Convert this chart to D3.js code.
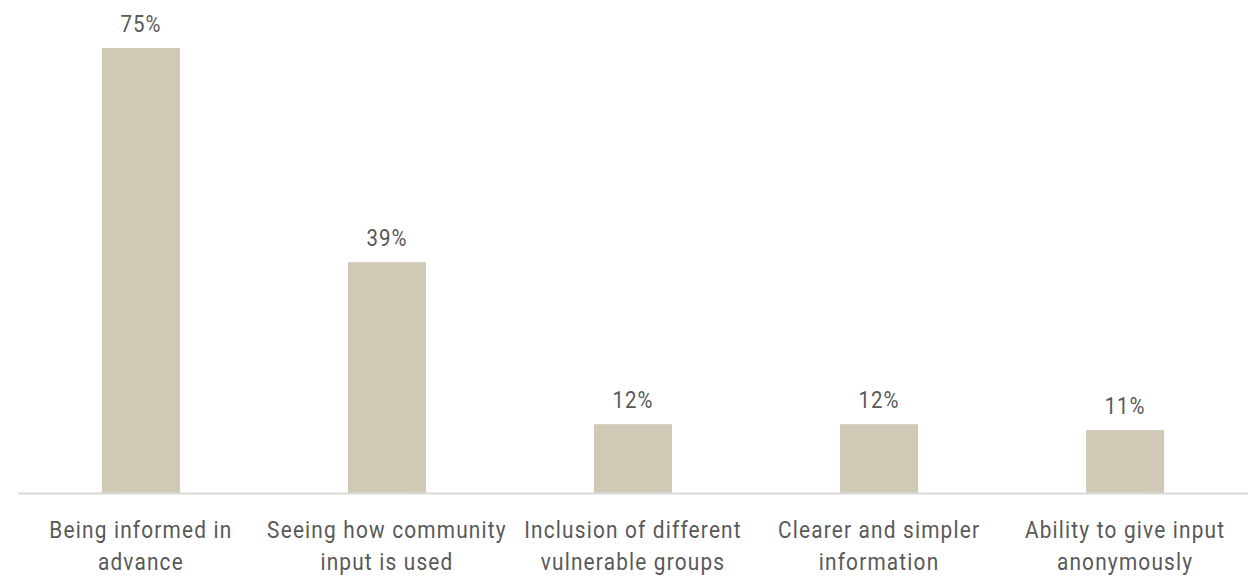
<!DOCTYPE html>
<html>
<head>
<meta charset="utf-8">
<script src="https://cdn.jsdelivr.net/npm/d3@7"></script>
<style>
  html, body { margin: 0; padding: 0; background: #fff; }
  svg { display: block; }
  text { font-family: Roboto, "Noto Sans", sans-serif; fill: #595959; }
</style>
</head>
<body>
<svg id="chart" width="1253" height="576"></svg>
<script>
const categories = [
  "Being informed in\nadvance",
  "Seeing how community\ninput is used",
  "Inclusion of different\nvulnerable groups",
  "Clearer and simpler\ninformation",
  "Ability to give input\nanonymously"
];
const values = [75, 38.9, 11.6, 11.6, 10.6];

const W = 1253, H = 576;
const margin = { left: 18, right: 5, top: 48, bottom: 83 };
const svg = d3.select("#chart");

const x = d3.scaleBand()
  .domain(categories)
  .range([margin.left, W - margin.right])
  .paddingInner(0.683)
  .paddingOuter(0.341);

const y = d3.scaleLinear()
  .domain([0, 75])
  .range([H - margin.bottom, margin.top]);

const fmt = v => Math.round(v) + "%";
const sx = 0.85;

svg.append("g").selectAll("rect")
  .data(values)
  .join("rect")
  .attr("x", (d, i) => x(categories[i]))
  .attr("width", x.bandwidth())
  .attr("y", d => y(d))
  .attr("height", d => y(0) - y(d))
  .attr("fill", "#d0c9b6");

// baseline axis
svg.append("line")
  .attr("x1", margin.left).attr("x2", W - margin.right)
  .attr("y1", y(0) + 0.5).attr("y2", y(0) + 0.5)
  .attr("stroke", "#d9d9d9").attr("stroke-width", 2);

// value labels
svg.append("g").selectAll("text")
  .data(values)
  .join("text")
  .attr("transform", (d, i) => `translate(${x(categories[i]) + x.bandwidth() / 2},${y(d) - 16}) scale(${sx},1)`)
  .attr("text-anchor", "middle")
  .attr("font-size", 24)
  .attr("letter-spacing", 1.2)
  .text(d => fmt(d));

// category labels
const cat = svg.append("g").selectAll("g")
  .data(categories)
  .join("g")
  .attr("transform", d => `translate(${x(d) + x.bandwidth() / 2},${y(0)}) scale(${sx},1)`);
cat.each(function(d) {
  const lines = d.split("\n");
  d3.select(this).selectAll("text")
    .data(lines)
    .join("text")
    .attr("text-anchor", "middle")
    .attr("font-size", 24.5)
    .attr("letter-spacing", 1.4)
    .attr("y", (l, j) => 45 + j * 32)
    .text(l => l);
});
</script>
</body>
</html>
